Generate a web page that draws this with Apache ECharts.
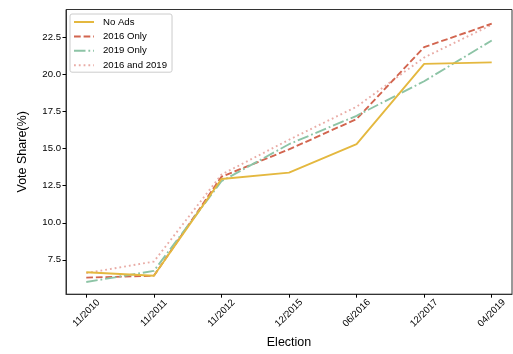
<!DOCTYPE html>
<html><head><meta charset="utf-8">
<script src="https://cdn.jsdelivr.net/npm/echarts@6/dist/echarts.min.js"></script>
<style>html,body{margin:0;padding:0;background:#fff}#c{width:513px;height:354px}</style>
</head><body><div id="c"></div>
<script>
var categories = ['11/2010','11/2011','11/2012','12/2015','06/2016','12/2017','04/2019'];
var noAds = [6.66, 6.42, 12.95, 13.38, 15.3, 20.72, 20.82];
var only2016 = [6.3, 6.42, 13.1, 14.95, 17.0, 21.85, 23.43];
var only2019 = [6.0, 6.75, 12.8, 15.3, 17.22, 19.55, 22.3];
var both = [6.6, 7.38, 13.25, 15.6, 17.83, 21.15, 23.36];
var yTicks = [7.5, 10, 12.5, 15, 17.5, 20, 22.5];

function pts(arr){ return arr.map(function(v,i){ return [i, v]; }); }
var font = '"Liberation Sans", Arial, sans-serif';
var chart = echarts.init(document.getElementById('c'), null, {renderer:'canvas'});
function ser(name, data, color, type, z){
  return {name:name, type:'line', data:pts(data), symbol:'none', z:z,
    lineStyle:{color:color, width:1.9, type:type}, itemStyle:{color:color}};
}
chart.setOption({
  animation:false,
  grid:{left:66, right:1, top:9.5, bottom:55, show:true, borderColor:'#333', borderWidth:1},
  legend:{orient:'vertical', left:70, top:14, itemWidth:20, itemHeight:11.7, itemGap:4.4,
    backgroundColor:'#fff', borderColor:'#ccc', borderWidth:1, borderRadius:2, padding:[3,5,2,3],
    itemStyle:{opacity:0},
    textStyle:{fontFamily:font, fontSize:9.6, color:'#000', padding:[0,0,0,4]},
    data:['No Ads','2016 Only','2019 Only','2016 and 2019']},
  xAxis:{type:'value', min:-0.3, max:6.3, name:'Election', nameLocation:'middle', nameGap:37,
    nameTextStyle:{fontFamily:font, fontSize:12.5, color:'#000'},
    splitLine:{show:false},
    axisLine:{onZero:false, lineStyle:{color:'#333'}},
    axisTick:{customValues:[0,1,2,3,4,5,6], length:3.5, lineStyle:{color:'#000'}},
    axisLabel:{customValues:[0,1,2,3,4,5,6], rotate:45, align:'center', verticalAlign:'middle', margin:19,
      fontFamily:font, fontSize:9.6, color:'#000',
      formatter:function(v){ return categories[Math.round(v)]; }}},
  yAxis:{type:'value', min:5.18, max:24.39, name:'Vote Share(%)', nameLocation:'middle', nameGap:37,
    nameTextStyle:{fontFamily:font, fontSize:12.5, color:'#000'},
    splitLine:{show:false},
    axisLine:{show:true, onZero:false, lineStyle:{color:'#333'}},
    axisTick:{show:true, customValues:yTicks, length:3.5, lineStyle:{color:'#000'}},
    axisLabel:{customValues:yTicks, margin:5, fontFamily:font, fontSize:9.6, color:'#000',
      formatter:function(v){ return v.toFixed(1); }}},
  series:[
    ser('No Ads', noAds, '#E4B83F', 'solid', 5),
    ser('2016 Only', only2016, '#D2654F', [6.7,2.9], 3),
    ser('2019 Only', only2019, '#8DC4A6', [11.5,2.9,1.8,2.9], 3),
    ser('2016 and 2019', both, '#E9ACA6', [1.8,3], 2)
  ]
});
</script></body></html>
